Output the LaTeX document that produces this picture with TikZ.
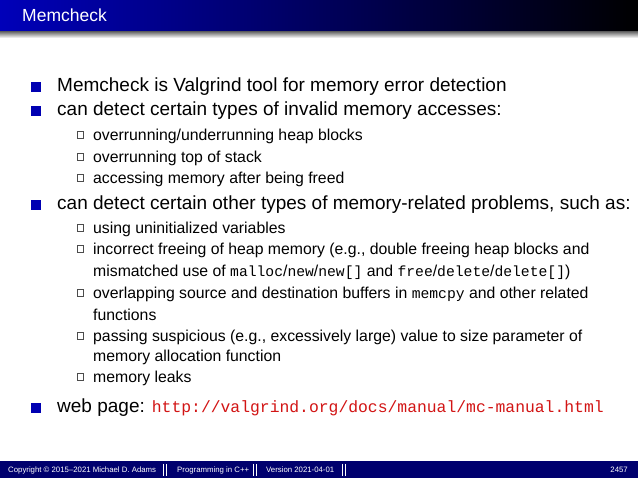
\documentclass[tikz,border=0pt]{standalone}
\usepackage{fontspec}
\setmainfont{Liberation Sans}
\setmonofont[Scale=0.93]{Liberation Mono}
\definecolor{hdrblue}{RGB}{0,0,185}
\definecolor{footblue}{RGB}{0,0,110}
\definecolor{urlred}{RGB}{210,20,20}
\begin{document}
\begin{tikzpicture}[x=1pt,y=-1pt,
  main/.style={anchor=west,inner sep=0pt,font=\fontsize{19}{22}\selectfont},
  sub/.style={anchor=west,inner sep=0pt,font=\fontsize{15.8}{18}\selectfont},
  mbul/.style={fill=blue!70!black,minimum size=10pt,inner sep=0pt},
  sbul/.style={draw=black!70,line width=0.5pt,minimum size=6.5pt,inner sep=0pt},
  foot/.style={anchor=west,inner sep=0pt,text=white,font=\fontsize{7.8}{9}\selectfont}]
\useasboundingbox (0,0) rectangle (638,478);
\fill[white] (0,0) rectangle (638,478);
% header
\shade[left color=hdrblue,right color=black] (0,0) rectangle (638,32);
\shade[top color=black!55,bottom color=white] (0,32) rectangle (638,38);
\node[anchor=west,inner sep=0pt,text=white,font=\fontsize{17.5}{21}\selectfont] (title) at (22,15) {Memcheck};
% items
\node[mbul] (b1) at (36,87) {}; \node[main] (t1) at (57,87) {Memcheck is Valgrind tool for memory error detection};
\node[mbul] (b2) at (36,111) {}; \node[main] (t2) at (57,111) {can detect certain types of invalid memory accesses:};
\node[sbul] (s1) at (80,135) {}; \node[sub] (u1) at (93,136) {overrunning/underrunning heap blocks};
\node[sbul] (s2) at (80,157) {}; \node[sub] (u2) at (93,158) {overrunning top of stack};
\node[sbul] (s3) at (80,178) {}; \node[sub] (u3) at (93,179) {accessing memory after being freed};
\node[mbul] (b3) at (36,205) {}; \node[main] (t3) at (57,205) {can detect certain other types of memory-related problems, such as:};
\node[sbul] (s4) at (80,228) {}; \node[sub] (u4) at (93,229) {using uninitialized variables};
\node[sbul] (s5) at (80,249) {}; \node[sub] (u5) at (93,250) {incorrect freeing of heap memory (e.g., double freeing heap blocks and};
\node[sub] (u5b) at (93,272) {mismatched use of \texttt{malloc}/\texttt{new}/\texttt{new[]} and \texttt{free}/\texttt{delete}/\texttt{delete[]})};
\node[sbul] (s6) at (80,293) {}; \node[sub] (u6) at (93,294) {overlapping source and destination buffers in \texttt{memcpy} and other related};
\node[sub] (u6b) at (93,315) {functions};
\node[sbul] (s7) at (80,336) {}; \node[sub] (u7) at (93,337) {passing suspicious (e.g., excessively large) value to size parameter of};
\node[sub] (u7b) at (93,357) {memory allocation function};
\node[sbul] (s8) at (80,377) {}; \node[sub] (u8) at (93,378) {memory leaks};
\node[mbul] (b4) at (36,408) {}; \node[main] (t4) at (57,408) {web page: \textcolor{urlred}{\fontsize{17.6}{20}\selectfont\texttt{http://valgrind.org/docs/manual/mc-manual.html}}};
% footer
\fill[footblue] (0,461) rectangle (638,478);
\node[foot] (f1) at (8,470) {Copyright \textcopyright{} 2015--2021 Michael D. Adams};
\node[foot] (f2) at (177,470) {Programming in C++};
\node[foot] (f3) at (266,470) {Version 2021-04-01};
\node[anchor=east,inner sep=0pt,text=white,font=\fontsize{7.8}{9}\selectfont] (f4) at (628,470) {2457};
\foreach \x in {163,166,253,256,342,345} \draw[white,line width=1pt] (\x,464) -- (\x,476);
\end{tikzpicture}
\end{document}
